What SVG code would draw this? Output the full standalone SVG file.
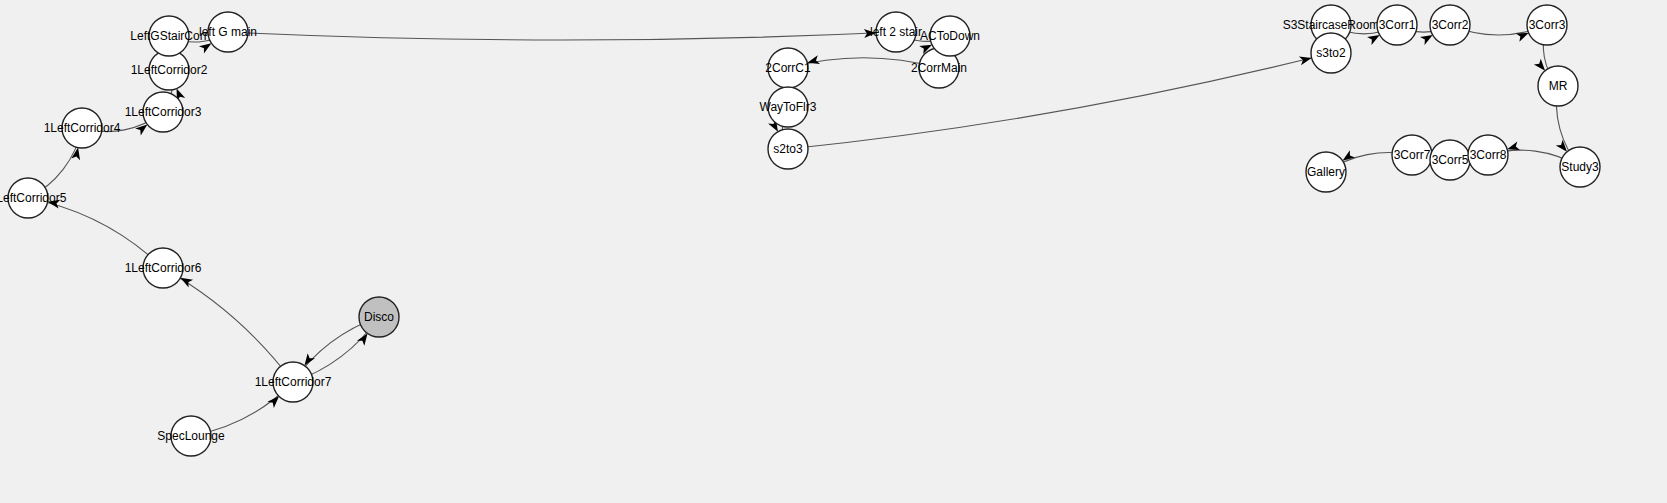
<svg xmlns="http://www.w3.org/2000/svg" width="1667" height="503" viewBox="0 0 1667 503">
<style>
.bg{fill:#f0f0f0}
.node circle{fill:#fff;stroke:#222;stroke-width:1.4}
.node.hl circle{fill:#c0c0c0}
.node text{font-family:"Liberation Sans",Arial,sans-serif;font-size:12px;fill:#000;text-anchor:middle}
.links path{fill:none;stroke:#555;stroke-width:1.1;marker-end:url(#arrow)}
</style>
<defs>
<marker id="arrow" viewBox="0 -6 12 12" refX="32" refY="0" markerWidth="12" markerHeight="12" markerUnits="userSpaceOnUse" orient="auto" overflow="visible">
<path d="M0,-4.5 L12,0 L0,4.5 L3,0 Z" fill="#000"/>
</marker>
</defs>
<rect class="bg" x="0" y="0" width="1667" height="503"/>
<g id="connectors" class="links">
<path d="M169,36 A59,59 0 0 0 228,32"/>
<path d="M163,112 A42,42 0 0 0 169,70"/>
<path d="M82,128 A90,90 0 0 0 163,112"/>
<path d="M28,198 A100,100 0 0 0 82,128"/>
<path d="M163,268 A268,268 0 0 0 28,198"/>
<path d="M293,382 A420,420 0 0 0 163,268"/>
<path d="M293,382 A175,175 0 0 0 379,317"/>
<path d="M379,317 A175,175 0 0 0 293,382"/>
<path d="M191,436 A189,189 0 0 0 293,382"/>
<path d="M228,32 A6976,6976 0 0 0 896,32"/>
<path d="M896,32 A54,54 0 0 0 950,36"/>
<path d="M939,68 A290,290 0 0 0 788,68"/>
<path d="M788,68 A110,110 0 0 0 788,107"/>
<path d="M788,107 A42,42 0 0 0 788,149"/>
<path d="M788,149 A3805,3805 0 0 0 1331,53"/>
<path d="M1331,25 A66,66 0 0 0 1397,25"/>
<path d="M1397,25 A53,53 0 0 0 1450,25"/>
<path d="M1450,25 A123,123 0 0 0 1547,25"/>
<path d="M1547,25 A62,62 0 0 0 1558,86"/>
<path d="M1558,86 A98,98 0 0 0 1580,167"/>
<path d="M1580,167 A113,113 0 0 0 1488,155"/>
<path d="M1488,155 A110,110 0 0 0 1450,160"/>
<path d="M1450,160 A110,110 0 0 0 1412,155"/>
<path d="M1412,155 A111,111 0 0 0 1326,172"/>
</g>
<g id="n-1LeftCorridor2" class="node"><circle cx="169" cy="70" r="20"/><text x="169" y="70" dy="0.35em">1LeftCorridor2</text></g>
<g id="n-LeftGStairCorr" class="node"><circle cx="169" cy="36" r="20"/><text x="169" y="36" dy="0.35em">LeftGStairCorr</text></g>
<g id="n-leftGmain" class="node"><circle cx="228" cy="32" r="20"/><text x="228" y="32" dy="0.35em">left G main</text></g>
<g id="n-1LeftCorridor3" class="node"><circle cx="163" cy="112" r="20"/><text x="163" y="112" dy="0.35em">1LeftCorridor3</text></g>
<g id="n-1LeftCorridor4" class="node"><circle cx="82" cy="128" r="20"/><text x="82" y="128" dy="0.35em">1LeftCorridor4</text></g>
<g id="n-1LeftCorridor5" class="node"><circle cx="28" cy="198" r="20"/><text x="28" y="198" dy="0.35em">1LeftCorridor5</text></g>
<g id="n-1LeftCorridor6" class="node"><circle cx="163" cy="268" r="20"/><text x="163" y="268" dy="0.35em">1LeftCorridor6</text></g>
<g id="n-1LeftCorridor7" class="node"><circle cx="293" cy="382" r="20"/><text x="293" y="382" dy="0.35em">1LeftCorridor7</text></g>
<g id="n-Disco" class="node hl"><circle cx="379" cy="317" r="20"/><text x="379" y="317" dy="0.35em">Disco</text></g>
<g id="n-SpecLounge" class="node"><circle cx="191" cy="436" r="20"/><text x="191" y="436" dy="0.35em">SpecLounge</text></g>
<g id="n-left2stair" class="node"><circle cx="896" cy="32" r="20"/><text x="896" y="32" dy="0.35em">left 2 stair</text></g>
<g id="n-2CorrMain" class="node"><circle cx="939" cy="68" r="20"/><text x="939" y="68" dy="0.35em">2CorrMain</text></g>
<g id="n-ACToDown" class="node"><circle cx="950" cy="36" r="20"/><text x="950" y="36" dy="0.35em">ACToDown</text></g>
<g id="n-2CorrC1" class="node"><circle cx="788" cy="68" r="20"/><text x="788" y="68" dy="0.35em">2CorrC1</text></g>
<g id="n-WayToFlr3" class="node"><circle cx="788" cy="107" r="20"/><text x="788" y="107" dy="0.35em">WayToFlr3</text></g>
<g id="n-s2to3" class="node"><circle cx="788" cy="149" r="20"/><text x="788" y="149" dy="0.35em">s2to3</text></g>
<g id="n-S3StaircaseRoom" class="node"><circle cx="1331" cy="25" r="20"/><text x="1331" y="25" dy="0.35em">S3StaircaseRoom</text></g>
<g id="n-s3to2" class="node"><circle cx="1331" cy="53" r="20"/><text x="1331" y="53" dy="0.35em">s3to2</text></g>
<g id="n-3Corr1" class="node"><circle cx="1397" cy="25" r="20"/><text x="1397" y="25" dy="0.35em">3Corr1</text></g>
<g id="n-3Corr2" class="node"><circle cx="1450" cy="25" r="20"/><text x="1450" y="25" dy="0.35em">3Corr2</text></g>
<g id="n-3Corr3" class="node"><circle cx="1547" cy="25" r="20"/><text x="1547" y="25" dy="0.35em">3Corr3</text></g>
<g id="n-MR" class="node"><circle cx="1558" cy="86" r="20"/><text x="1558" y="86" dy="0.35em">MR</text></g>
<g id="n-Study3" class="node"><circle cx="1580" cy="167" r="20"/><text x="1580" y="167" dy="0.35em">Study3</text></g>
<g id="n-3Corr7" class="node"><circle cx="1412" cy="155" r="20"/><text x="1412" y="155" dy="0.35em">3Corr7</text></g>
<g id="n-3Corr5" class="node"><circle cx="1450" cy="160" r="20"/><text x="1450" y="160" dy="0.35em">3Corr5</text></g>
<g id="n-3Corr8" class="node"><circle cx="1488" cy="155" r="20"/><text x="1488" y="155" dy="0.35em">3Corr8</text></g>
<g id="n-Gallery" class="node"><circle cx="1326" cy="172" r="20"/><text x="1326" y="172" dy="0.35em">Gallery</text></g>
</svg>
